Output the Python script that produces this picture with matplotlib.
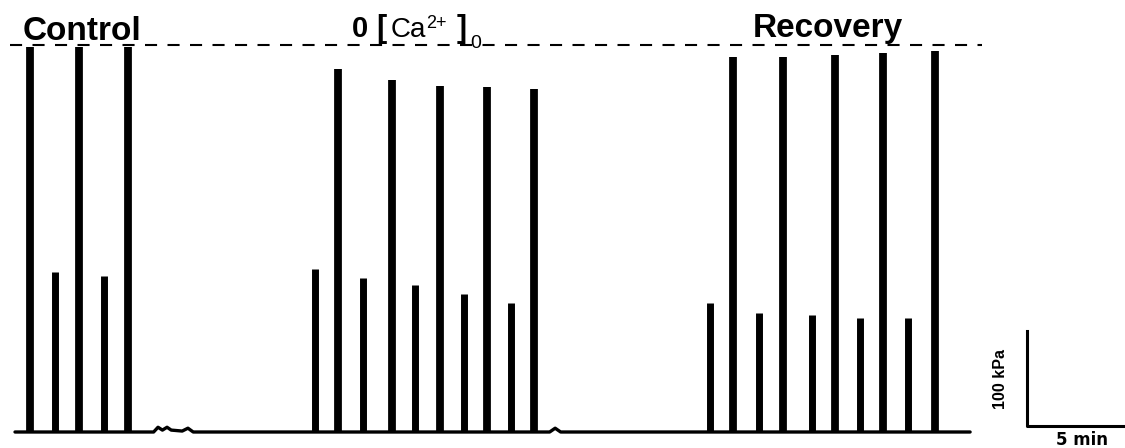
import numpy as np
import matplotlib
matplotlib.use("Agg")
import matplotlib.pyplot as plt

plt.rcParams['font.family'] = ['Liberation Sans', 'DejaVu Sans']

# contraction peaks: time (min), peak pressure (kPa)
ctrl_t = [0.68, 1.82, 2.91, 4.05, 5.14]
ctrl_p = [405, 168, 405, 164, 405]
ca0_t = [13.64, 14.68, 15.82, 17.14, 18.18, 19.32, 20.41, 21.45, 22.55, 23.59]
ca0_p = [172, 382, 162, 370, 155, 364, 145, 363, 136, 361]
rec_t = [31.59, 32.64, 33.82, 34.91, 36.23, 37.27, 38.41, 39.45, 40.59, 41.82]
rec_p = [136, 395, 125, 395, 123, 397, 120, 399, 120, 401]

# baseline trace with small blips
base_t = [0.0, 6.3, 6.5, 6.7, 6.91, 7.1, 7.6, 7.86, 8.1, 24.3, 24.55, 24.8, 43.41]
base_p = [0, 0, 5, 2, 5, 2, 1, 4, 0, 0, 4, 0, 0]

control_level = 407  # kPa, dashed reference

fig = plt.figure(figsize=(11.25, 4.48), dpi=100)
ax = fig.add_axes([0, 0, 1, 1])
ax.set_xlim(-0.682, 50.45)
ax.set_ylim(-16.84, 454.7)
ax.axis('off')

all_t = np.array(ctrl_t + ca0_t + rec_t)
all_p = np.array(ctrl_p + ca0_p + rec_p)
tall = all_p > 300
ax.vlines(all_t[tall], 0, all_p[tall], color='black', lw=5.6, capstyle='butt')
ax.vlines(all_t[~tall], 0, all_p[~tall], color='black', lw=5.0, capstyle='butt')
ax.plot(base_t, base_p, color='black', lw=2.4, solid_capstyle='round')

ax.plot([-0.23, 43.95], [control_level, control_level], color='black', lw=1.5,
        dashes=(5.8, 5.0))

ax.text(3.05, 413, 'Control', fontsize=24, fontweight='bold', ha='center', va='baseline')
ax.text(36.95, 416, 'Recovery', fontsize=24, fontweight='bold', ha='center', va='baseline')

# 0 [Ca2+]0 label built from pieces
ax.text(15.32, 415.8, '0', fontsize=21, fontweight='bold', ha='left', va='baseline')
ax.text(16.4, 415.8, '[', fontsize=22, fontweight='bold', ha='left', va='baseline')
ax.text(17.05, 415.8, 'Ca', fontsize=20, ha='left', va='baseline')
ax.text(18.7, 425.3, '2+', fontsize=13, ha='left', va='baseline')
ax.text(20.05, 415.8, ']', fontsize=22, fontweight='bold', ha='left', va='baseline')
ax.text(20.68, 404.2, '0', fontsize=14, ha='left', va='baseline')

# scale bar: 100 kPa, 5 min
sb_t, sb_p = 46.0, 6.3
ax.plot([sb_t, sb_t, sb_t + 5], [sb_p + 100, sb_p, sb_p], color='black', lw=2.2)
ax.text(sb_t - 1.2, sb_p + 50, '100 kPa', fontsize=11.5, fontweight='bold',
        rotation=90, ha='center', va='center')
ax.text(sb_t + 2.5, -8.6, '5 min', fontsize=12, fontweight='bold',
        family='DejaVu Sans', ha='center', va='center')

fig.savefig('out.png', dpi=100, facecolor='white')
